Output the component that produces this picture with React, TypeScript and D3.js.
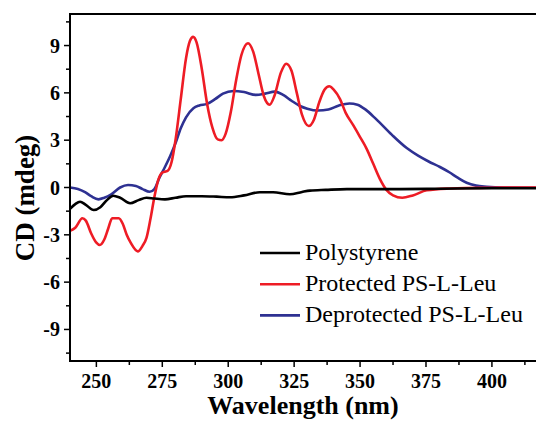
import React, { useEffect, useRef } from 'react';
import * as d3 from 'd3';

// wavelength (nm) / CD (mdeg) control points
const blackX = [240, 242, 243.8, 246, 249, 251.5, 254, 256.4, 259, 262.8, 266, 269, 272, 276, 280, 284, 290, 295.6, 300.7, 306, 312, 317, 323.4, 328, 331, 337, 345, 355, 365, 380, 400, 420];
const blackY = [-1.35, -1.05, -0.9, -1.1, -1.43, -1.25, -0.8, -0.52, -0.65, -1.0, -0.8, -0.65, -0.7, -0.75, -0.65, -0.55, -0.55, -0.58, -0.62, -0.5, -0.3, -0.3, -0.43, -0.28, -0.2, -0.15, -0.1, -0.1, -0.1, -0.08, -0.05, -0.05];

const redX = [240, 242, 244.7, 246, 248, 250, 251.3, 253, 254.5, 256, 258.5, 260, 261.5, 263, 265.7, 267.5, 269, 270.5, 272, 273.5, 275, 277, 278.5, 280, 282, 284, 285.5, 286.7, 288, 290, 292, 294, 296, 297.5, 299, 301, 303, 305, 307.5, 309.5, 311.5, 313.5, 315.7, 317.5, 320, 322, 324, 326, 328, 330.5, 332.5, 334.5, 336.5, 338.3, 340, 342.4, 344.5, 347.4, 350, 352.5, 355, 357.5, 360, 362.5, 366, 370, 375.3, 384, 390, 400, 410, 420];
const redY = [-2.75, -2.55, -1.95, -2.1, -2.9, -3.5, -3.65, -3.3, -2.6, -1.95, -1.95, -2.3, -3.0, -3.5, -4.05, -3.7, -3.2, -2.0, -0.6, 0.5, 0.95, 1.05, 1.6, 3.0, 5.6, 8.2, 9.3, 9.55, 9.2, 7.5, 5.3, 3.8, 3.05, 3.0, 3.4, 4.8, 6.8, 8.4, 9.15, 8.6, 7.2, 5.8, 5.25, 5.8, 7.3, 7.85, 7.4, 6.0, 4.6, 3.9, 4.3, 5.4, 6.2, 6.42, 6.2, 5.6, 4.75, 3.95, 3.2, 2.45, 1.5, 0.55, -0.15, -0.5, -0.65, -0.5, -0.18, -0.06, -0.03, -0.02, 0, 0];

const blueX = [240, 243, 245.7, 248, 250.8, 253, 255.5, 259, 262, 265, 267.5, 270.2, 272, 274, 276, 278, 280, 282, 284, 286.8, 289, 292, 295, 298, 302, 306, 310.5, 314, 317.7, 321, 324, 327.2, 330, 334, 338, 342, 346, 349, 352, 356, 362, 367.7, 372, 376, 380.3, 384, 387, 390.4, 394, 398, 405, 420];
const blueY = [0.0, -0.1, -0.3, -0.55, -0.75, -0.65, -0.45, 0.0, 0.16, 0.1, -0.1, -0.27, -0.1, 0.65, 1.3, 2.0, 2.8, 3.75, 4.45, 5.03, 5.2, 5.3, 5.6, 5.95, 6.12, 6.05, 5.87, 5.95, 6.08, 5.85, 5.5, 5.17, 5.0, 4.88, 4.95, 5.2, 5.33, 5.25, 4.95, 4.35, 3.35, 2.5, 2.02, 1.65, 1.3, 0.95, 0.62, 0.3, 0.12, 0.05, 0.0, -0.02];

const seriesNames = ['Polystyrene', 'Protected PS-L-Leu', 'Deprotected PS-L-Leu'];
const seriesColors = ['#000000', '#ee1c25', '#2e3192'];

const xTicks = [250, 275, 300, 325, 350, 375, 400];
const yTicks = [-9, -6, -3, 0, 3, 6, 9];

const FONT = 'Liberation Serif, Times New Roman, serif';

const App = () => {
  const ref = useRef<SVGSVGElement>(null);

  useEffect(() => {
    const svg = d3.select(ref.current);
    svg.selectAll('*').remove();

    const left = 70, top = 14, bottom = 361;
    const x = d3.scaleLinear().domain([240, 420]).range([left, left + 180 * 2.637]);
    const y = d3.scaleLinear().domain([-11, 11]).range([bottom, top]);

    svg.append('defs').append('clipPath').attr('id', 'plotclip')
      .append('rect')
      .attr('x', left).attr('y', top)
      .attr('width', x(420) - left).attr('height', bottom - top);

    const line = d3.line<[number, number]>()
      .x(d => x(d[0]))
      .y(d => y(d[1]))
      .curve(d3.curveMonotoneX);

    const series = [
      d3.zip(blackX, blackY),
      d3.zip(redX, redY),
      d3.zip(blueX, blueY),
    ] as [number, number][][];

    const g = svg.append('g').attr('clip-path', 'url(#plotclip)');
    // blue first, black last (black sits on top near zero)
    [2, 1, 0].forEach(i => {
      g.append('path')
        .datum(series[i])
        .attr('fill', 'none')
        .attr('stroke', seriesColors[i])
        .attr('stroke-width', 2.6)
        .attr('stroke-linejoin', 'round')
        .attr('d', line);
    });

    // frame
    svg.append('rect')
      .attr('x', left).attr('y', top)
      .attr('width', x(420) - left).attr('height', bottom - top)
      .attr('fill', 'none')
      .attr('stroke', '#000')
      .attr('stroke-width', 2);

    const txt = (sel: any, size: number, weight: string) =>
      sel.attr('font-family', FONT).attr('font-size', size).attr('font-weight', weight).attr('fill', '#000');

    // x ticks
    const xMinor = d3.range(262.5, 420, 25);
    svg.append('g').selectAll('line').data(xTicks).join('line')
      .attr('x1', d => x(d)).attr('x2', d => x(d))
      .attr('y1', bottom).attr('y2', bottom + 6)
      .attr('stroke', '#000').attr('stroke-width', 1.5);
    svg.append('g').selectAll('line').data(xMinor).join('line')
      .attr('x1', d => x(d)).attr('x2', d => x(d))
      .attr('y1', bottom).attr('y2', bottom + 4)
      .attr('stroke', '#000').attr('stroke-width', 1.5);
    txt(svg.append('g').selectAll('text').data(xTicks).join('text')
      .attr('x', d => x(d)).attr('y', 388)
      .attr('text-anchor', 'middle'), 20, 'bold')
      .text(d => String(d));

    // y ticks
    const yMinor = d3.range(-10.5, 11, 3);
    svg.append('g').selectAll('line').data(yTicks).join('line')
      .attr('x1', left - 6).attr('x2', left)
      .attr('y1', d => y(d)).attr('y2', d => y(d))
      .attr('stroke', '#000').attr('stroke-width', 1.5);
    svg.append('g').selectAll('line').data(yMinor).join('line')
      .attr('x1', left - 4).attr('x2', left)
      .attr('y1', d => y(d)).attr('y2', d => y(d))
      .attr('stroke', '#000').attr('stroke-width', 1.5);
    txt(svg.append('g').selectAll('text').data(yTicks).join('text')
      .attr('x', 60).attr('y', d => y(d) + 7)
      .attr('text-anchor', 'end'), 20, 'bold')
      .text(d => String(d));

    // axis titles
    txt(svg.append('text')
      .attr('x', 303).attr('y', 414)
      .attr('text-anchor', 'middle'), 26, 'bold')
      .text('Wavelength (nm)');
    txt(svg.append('text')
      .attr('transform', 'translate(34,198) rotate(-90)')
      .attr('text-anchor', 'middle'), 27, 'bold')
      .text('CD (mdeg)');

    // legend
    const legend = svg.append('g').attr('transform', 'translate(260,253)');
    seriesNames.forEach((name, i) => {
      const row = legend.append('g').attr('transform', `translate(0,${i * 31.2})`);
      row.append('line')
        .attr('x1', 0).attr('x2', 40)
        .attr('stroke', seriesColors[i]).attr('stroke-width', 2.6);
      txt(row.append('text').attr('x', 45).attr('y', 7), 24, 'normal')
        .text(name);
    });
  }, []);

  return (
    <svg ref={ref} width={536} height={423}
      style={{ position: 'absolute', left: 0, top: 0, background: '#fff' }} />
  );
};

export default App;
